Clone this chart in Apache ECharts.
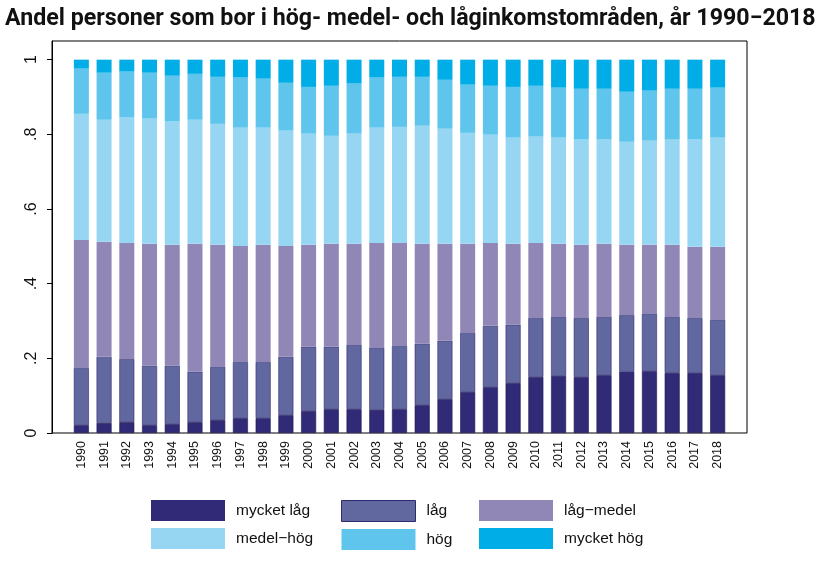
<!DOCTYPE html>
<html>
<head>
<meta charset="utf-8">
<script src="https://cdn.jsdelivr.net/npm/echarts@6/dist/echarts.min.js"></script>
<style>
  html, body { margin: 0; padding: 0; background: #fff; }
  #container { width: 825px; height: 561px; }
</style>
</head>
<body>
<div id="container"></div>
<script>
var years = ['1990','1991','1992','1993','1994','1995','1996','1997','1998','1999',
             '2000','2001','2002','2003','2004','2005','2006','2007','2008','2009',
             '2010','2011','2012','2013','2014','2015','2016','2017','2018'];

var mycketLag  = [.021,.027,.029,.021,.024,.029,.035,.040,.040,.048,.059,.064,.064,.062,.064,.075,.091,.110,.123,.134,.150,.153,.150,.155,.164,.166,.161,.161,.155];
var lag        = [.153,.177,.169,.159,.156,.135,.142,.150,.150,.156,.172,.167,.172,.166,.169,.164,.156,.158,.164,.156,.158,.158,.158,.156,.152,.153,.150,.147,.148];
var lagMedel   = [.343,.308,.311,.327,.324,.343,.327,.311,.314,.297,.273,.276,.271,.281,.276,.268,.260,.239,.222,.217,.201,.196,.196,.196,.188,.185,.193,.191,.196];
var medelHog   = [.338,.327,.336,.335,.330,.332,.324,.317,.314,.309,.298,.289,.295,.309,.311,.316,.308,.297,.290,.284,.285,.284,.282,.279,.276,.279,.282,.287,.292];
var hog        = [.121,.126,.123,.123,.123,.123,.126,.134,.131,.128,.125,.134,.134,.134,.134,.131,.131,.129,.131,.136,.136,.134,.136,.136,.134,.134,.136,.136,.134];
var mycketHog  = [.024,.035,.032,.035,.043,.038,.046,.048,.051,.062,.073,.070,.064,.048,.046,.046,.054,.067,.070,.073,.070,.075,.078,.078,.086,.083,.078,.078,.075];

var yTicks = [0, 0.2, 0.4, 0.6, 0.8, 1];

var dom = document.getElementById('container');
var myChart = echarts.init(dom);

function bar(name, data, color, border) {
    return {
        name: name,
        type: 'bar',
        stack: 'andel',
        xAxisIndex: 0,
        yAxisIndex: 0,
        barWidth: 15,
        data: data,
        itemStyle: {
            color: color,
            borderColor: border || color,
            borderWidth: border ? 0.6 : 0
        }
    };
}

var legendText = { color: '#111', fontSize: 15.5, fontFamily: 'Liberation Sans, Arial, sans-serif', padding: [0, 0, 0, 6] };

function legendCol(items, left) {
    return {
        data: items,
        left: left,
        top: 495,
        orient: 'vertical',
        itemWidth: 74,
        itemHeight: 21,
        itemGap: 7,
        icon: 'rect',
        itemStyle: { borderWidth: 0 },
        textStyle: legendText
    };
}

var option = {
    backgroundColor: '#fff',
    animation: false,
    title: {
        text: 'Andel personer som bor i hög- medel- och låginkomstområden, år 1990−2018',
        left: 0,
        top: 3,
        textStyle: { fontFamily: 'Roboto', fontWeight: 'bold', fontSize: 23.2, color: '#111' }
    },
    legend: [
        legendCol(['mycket låg', 'medel−hög'], 146),
        legendCol([{ name: 'låg', itemStyle: { borderWidth: 1, borderColor: '#2e2a70' } }, 'hög'], 336),
        legendCol(['låg−medel', 'mycket hög'], 474)
    ],
    grid: [
        { left: 70, right: 96, top: 41, bottom: 128 },
        { left: 52, right: 78, top: 41, bottom: 128, show: true, borderColor: '#000', borderWidth: 1 }
    ],
    xAxis: [
        {
            gridIndex: 0,
            type: 'category',
            data: years,
            axisLine: { show: false },
            axisTick: { show: false },
            axisLabel: { rotate: 90, margin: 8, fontSize: 12.5, color: '#111',
                         fontFamily: 'Liberation Sans, Arial, sans-serif', interval: 0 }
        },
        { gridIndex: 1, type: 'value', show: false }
    ],
    yAxis: [
        {
            gridIndex: 0,
            type: 'value',
            min: 0,
            max: 1.05,
            offset: 18,
            splitLine: { show: false },
            axisLine: { show: true, lineStyle: { color: '#000' } },
            axisTick: { show: true, length: 5, customValues: yTicks, lineStyle: { color: '#000' } },
            axisLabel: {
                customValues: yTicks,
                rotate: 90,
                margin: 12,
                fontSize: 16,
                color: '#111',
                fontFamily: 'Liberation Sans, Arial, sans-serif',
                formatter: function (v) {
                    if (v === 0) return '0';
                    if (Math.abs(v - 1) < 1e-9) return '1';
                    return v.toFixed(1).replace(/^0/, '');
                }
            }
        },
        { gridIndex: 1, type: 'value', show: false }
    ],
    series: [
        bar('mycket låg', mycketLag, '#302a77', '#1c1850'),
        bar('låg', lag, '#6168a0', '#2e2a70'),
        bar('låg−medel', lagMedel, '#9187b6'),
        bar('medel−hög', medelHog, '#97d6f2'),
        bar('hög', hog, '#5fc5ed'),
        bar('mycket hög', mycketHog, '#00ade6')
    ]
};

if (option && typeof option === 'object') {
    myChart.setOption(option, true);
}
</script>
</body>
</html>
